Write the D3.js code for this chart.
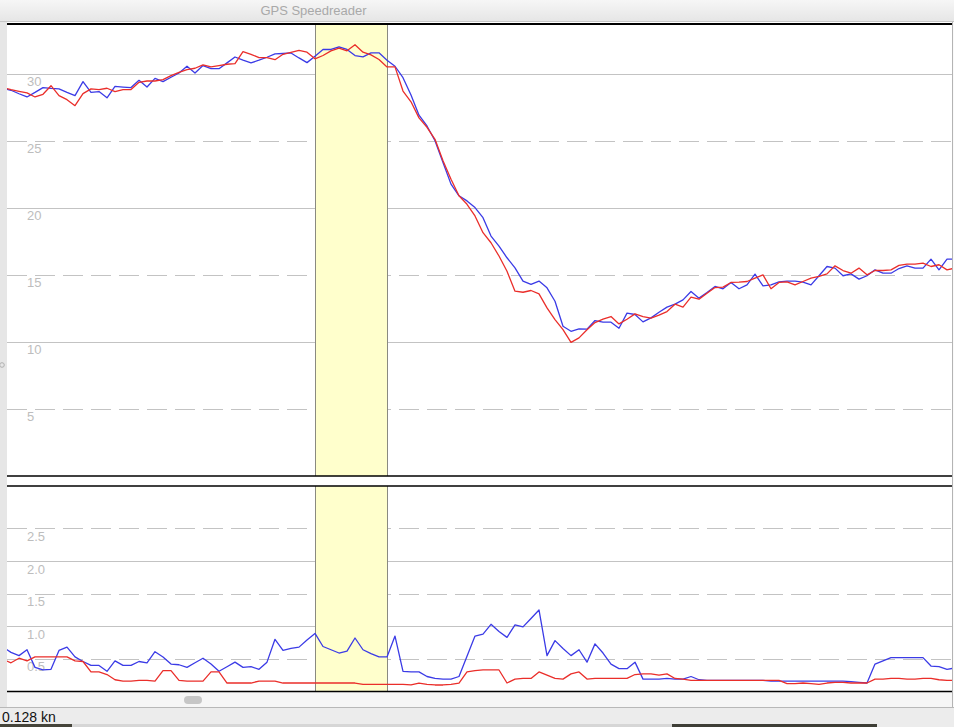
<!DOCTYPE html>
<html>
<head>
<meta charset="utf-8">
<script src="https://cdn.jsdelivr.net/npm/d3@7"></script>
<style>
  html, body { margin: 0; padding: 0; background: #ececec; overflow: hidden; }
  svg { display: block; font-family: "Liberation Sans", Helvetica, Arial, sans-serif; }
</style>
</head>
<body>
<svg id="chart" width="954" height="727"></svg>
<script>
// ---- Data (sample index 0..119, evenly spaced in time) ----
const speedBlue = [28.9, 28.76, 28.5, 28.26, 28.6, 28.96, 28.9, 28.86, 28.6, 28.36,
  29.4, 28.6, 28.66, 28.2, 29.05, 29.0, 28.96, 29.5, 29.0, 29.65,
  29.4, 29.73, 30.05, 30.55, 30.05, 30.6, 30.37, 30.37, 30.8, 31.24,
  31.0, 30.8, 31.0, 31.22, 31.47, 31.5, 31.54, 31.17, 30.82, 31.3,
  31.8, 31.8, 32.0, 31.8, 31.35, 31.25, 31.55, 31.55, 31.0, 30.55,
  29.7, 28.4, 26.9, 26.1, 25.0, 23.38, 21.76, 20.89, 20.51, 20.01,
  19.26, 17.89, 17.14, 16.27, 15.52, 14.53, 14.28, 14.53, 14.03, 13.03,
  11.16, 10.79, 10.96, 10.95, 11.59, 11.47, 11.47, 11.02, 12.14, 12.04,
  11.49, 11.79, 12.21, 12.59, 12.81, 13.13, 13.76, 13.26, 13.68, 14.13,
  13.96, 14.43, 13.96, 14.25, 15.05, 14.18, 14.25, 14.48, 14.53, 14.53,
  14.45, 14.25, 14.93, 15.62, 15.5, 14.93, 15.07, 14.68, 14.93, 15.37,
  15.12, 15.12, 15.47, 15.67, 15.5, 15.5, 16.17, 15.37, 16.17, 16.17];

const speedRed = [28.96, 28.81, 28.68, 28.56, 28.26, 28.46, 29.1, 28.36, 28.06, 27.61,
  28.51, 28.86, 28.81, 28.91, 28.66, 28.81, 28.81, 29.35, 29.45, 29.45,
  29.55, 29.85, 30.1, 30.3, 30.4, 30.65, 30.5, 30.6, 30.7, 30.75,
  31.64, 31.44, 31.19, 31.19, 31.04, 31.44, 31.59, 31.74, 31.6, 31.1,
  31.35, 31.7, 31.9, 31.7, 32.15, 31.6, 31.4, 31.05, 30.5, 30.5,
  28.7, 27.9, 26.7, 26.0, 25.1, 23.5, 22.13, 20.89, 20.26, 19.39,
  18.14, 17.39, 16.4, 15.27, 13.78, 13.7, 13.83, 13.58, 12.53, 11.66,
  10.91, 9.96, 10.3, 10.9, 11.44, 11.69, 11.89, 11.34, 11.69, 12.09,
  11.89, 11.77, 11.99, 12.26, 12.81, 12.59, 13.33, 13.18, 13.63, 14.05,
  14.08, 14.43, 14.45, 14.5, 14.75, 15.0, 13.96, 14.43, 14.48, 14.25,
  14.5, 14.75, 14.88, 15.07, 15.67, 15.32, 15.12, 15.5, 15.0, 15.32,
  15.32, 15.37, 15.7, 15.8, 15.8, 15.87, 15.62, 15.75, 15.37, 15.5];

const accBlue = [0.68, 0.60, 0.55, 0.64, 0.37, 0.33, 0.34, 0.63, 0.68, 0.53,
  0.46, 0.40, 0.40, 0.31, 0.47, 0.40, 0.40, 0.46, 0.44, 0.61,
  0.53, 0.42, 0.41, 0.37, 0.44, 0.51, 0.42, 0.31, 0.38, 0.45,
  0.37, 0.38, 0.34, 0.45, 0.80, 0.63, 0.66, 0.68, 0.79, 0.89,
  0.69, 0.64, 0.59, 0.62, 0.82, 0.64, 0.58, 0.53, 0.53, 0.85,
  0.31, 0.30, 0.30, 0.23, 0.20, 0.19, 0.19, 0.23, 0.54, 0.85,
  0.88, 1.03, 0.92, 0.83, 1.02, 0.99, 1.12, 1.25, 0.55, 0.78,
  0.66, 0.55, 0.64, 0.45, 0.73, 0.59, 0.42, 0.35, 0.35, 0.45,
  0.19, 0.19, 0.19, 0.20, 0.19, 0.19, 0.23, 0.18, 0.17, 0.17,
  0.17, 0.17, 0.17, 0.17, 0.17, 0.17, 0.16, 0.16, 0.16, 0.16,
  0.16, 0.16, 0.16, 0.16, 0.16, 0.16, 0.15, 0.14, 0.13, 0.42,
  0.47, 0.52, 0.52, 0.52, 0.52, 0.52, 0.39, 0.38, 0.34, 0.36];

const accRed = [0.49, 0.44, 0.51, 0.47, 0.53, 0.53, 0.53, 0.53, 0.53, 0.47,
  0.46, 0.30, 0.30, 0.26, 0.18, 0.16, 0.16, 0.17, 0.17, 0.16,
  0.32, 0.32, 0.17, 0.16, 0.16, 0.16, 0.30, 0.30, 0.13, 0.13,
  0.13, 0.13, 0.16, 0.16, 0.16, 0.13, 0.13, 0.13, 0.13, 0.13,
  0.13, 0.13, 0.13, 0.13, 0.13, 0.11, 0.11, 0.11, 0.11, 0.11,
  0.11, 0.10, 0.13, 0.11, 0.10, 0.10, 0.11, 0.13, 0.30, 0.32,
  0.33, 0.33, 0.33, 0.13, 0.19, 0.20, 0.20, 0.30, 0.25, 0.20,
  0.19, 0.27, 0.30, 0.19, 0.20, 0.20, 0.20, 0.20, 0.20, 0.26,
  0.27, 0.27, 0.25, 0.27, 0.20, 0.19, 0.17, 0.17, 0.17, 0.17,
  0.17, 0.17, 0.17, 0.17, 0.17, 0.17, 0.17, 0.17, 0.12, 0.12,
  0.13, 0.12, 0.11, 0.13, 0.14, 0.14, 0.13, 0.13, 0.13, 0.19,
  0.19, 0.20, 0.20, 0.19, 0.19, 0.20, 0.20, 0.18, 0.17, 0.17];

const topTicks = [5, 10, 15, 20, 25, 30];
const topDashed = [5, 15, 25];
const bottomTicks = [0.5, 1.0, 1.5, 2.0, 2.5];
const bottomDashed = [0.5, 1.5, 2.5];
const selection = [39, 48];          // highlighted sample range
const windowTitle = "GPS Speedreader";
const statusText = "0.128 kn";

// ---- Layout ----
const W = 954, H = 727;
const L = 7, R = 952;
const topPanel = { y0: 24, y1: 476 };
const botPanel = { y0: 486, y1: 691.5 };

const svg = d3.select("#chart");
const defs = svg.append("defs");

const grad = defs.append("linearGradient").attr("id", "tb").attr("x1", 0).attr("y1", 0).attr("x2", 0).attr("y2", 1);
grad.append("stop").attr("offset", "0%").attr("stop-color", "#f6f6f6");
grad.append("stop").attr("offset", "100%").attr("stop-color", "#e6e6e6");

// window chrome
svg.append("rect").attr("x", 0).attr("y", 0).attr("width", W).attr("height", H).attr("fill", "#ececec");
svg.append("rect").attr("x", 0).attr("y", 0).attr("width", W).attr("height", 21).attr("fill", "url(#tb)");
svg.append("line").attr("x1", 0).attr("x2", W).attr("y1", 21.5).attr("y2", 21.5).attr("stroke", "#c6c6c6");
svg.append("text").attr("x", 313.5).attr("y", 15).attr("text-anchor", "middle")
  .attr("font-size", 13).attr("fill", "#a9a9a9").text(windowTitle);

// content area
svg.append("rect").attr("x", 0).attr("y", 22).attr("width", L).attr("height", 685).attr("fill", "#e6e6e6");
svg.append("rect").attr("x", L).attr("y", 22).attr("width", R - L).attr("height", 670).attr("fill", "#ffffff");
svg.append("rect").attr("x", L).attr("y", 692).attr("width", R - L).attr("height", 15).attr("fill", "#f6f6f6");
svg.append("line").attr("x1", R + 0.5).attr("x2", R + 0.5).attr("y1", 22).attr("y2", 708).attr("stroke", "#b4b4b4");
svg.append("rect").attr("x", R + 1).attr("y", 22).attr("width", W - R - 1).attr("height", 686).attr("fill", "#fafafa");
svg.append("line").attr("x1", 0).attr("x2", W).attr("y1", 707.5).attr("y2", 707.5).attr("stroke", "#b8b8b8");
svg.append("rect").attr("x", 184).attr("y", 696).attr("width", 18).attr("height", 8).attr("rx", 4)
  .attr("fill", "#c6c6c6");
svg.append("circle").attr("cx", 2).attr("cy", 365).attr("r", 2.3).attr("fill", "none").attr("stroke", "#b0b0b0");

// status bar
svg.append("text").attr("x", 2).attr("y", 722).attr("font-size", 14).attr("fill", "#111").text(statusText);
svg.append("rect").attr("x", 0).attr("y", 724).attr("width", 72).attr("height", 3).attr("fill", "#45443a");
svg.append("rect").attr("x", 72).attr("y", 724).attr("width", 600).attr("height", 3).attr("fill", "#d6d6d6");
svg.append("rect").attr("x", 672).attr("y", 724).attr("width", 205).attr("height", 3).attr("fill", "#3e3e36");

// ---- Scales ----
const N = speedBlue.length;
const x = d3.scaleLinear().domain([0, N - 1]).range([3, 3 + 8 * (N - 1)]);
const yTop = d3.scaleLinear().domain([0, 33.7]).range([topPanel.y1, topPanel.y0]);
const yBot = d3.scaleLinear().domain([0, 3.15]).range([botPanel.y1, botPanel.y0]);

function panel(id, p, yScale, ticks, dashed, fmt, blue, red) {
  defs.append("clipPath").attr("id", id).append("rect")
    .attr("x", L).attr("y", p.y0).attr("width", R - L).attr("height", p.y1 - p.y0);
  const g = svg.append("g");

  const axis = d3.axisLeft(yScale).tickValues(ticks).tickSize(-(R - L)).tickFormat(fmt);
  const ax = g.append("g").attr("transform", `translate(${L},0)`).call(axis);
  ax.select(".domain").remove();
  ax.selectAll(".tick line")
    .attr("stroke", "#c3c3c3").attr("stroke-width", 1)
    .attr("stroke-dasharray", d => dashed.includes(d) ? "20,8" : null)
    .attr("shape-rendering", "crispEdges");
  ax.selectAll(".tick text")
    .attr("x", 20).attr("dy", 12).attr("text-anchor", "start")
    .attr("fill", "#bdbdbd").attr("font-size", 13)
    .attr("font-family", "'Liberation Sans', Helvetica, Arial, sans-serif");

  // selected range
  const bx0 = Math.round(x(selection[0])), bx1 = Math.round(x(selection[1]));
  g.append("rect").attr("x", bx0).attr("y", p.y0).attr("width", bx1 - bx0).attr("height", p.y1 - p.y0)
    .attr("fill", "#ffffcc");
  [bx0, bx1].forEach(bx => g.append("line").attr("x1", bx + 0.5).attr("x2", bx + 0.5)
    .attr("y1", p.y0).attr("y2", p.y1).attr("stroke", "#8a8a80").attr("stroke-width", 1));

  const line = d3.line().x((d, i) => x(i)).y(d => yScale(d));
  const lg = g.append("g").attr("clip-path", `url(#${id})`);
  lg.append("path").datum(blue).attr("d", line).attr("fill", "none")
    .attr("stroke", "#3b3be6").attr("stroke-width", 1.3).attr("stroke-linejoin", "round");
  lg.append("path").datum(red).attr("d", line).attr("fill", "none")
    .attr("stroke", "#ea2e2a").attr("stroke-width", 1.3).attr("stroke-linejoin", "round");
}

panel("clipTop", topPanel, yTop, topTicks, topDashed, d3.format("d"), speedBlue, speedRed);
panel("clipBot", botPanel, yBot, bottomTicks, bottomDashed, d3.format(".1f"), accBlue, accRed);

// panel borders
[[topPanel.y0, 2], [topPanel.y1, 1.5], [botPanel.y0, 1.5], [botPanel.y1, 1.5]].forEach(([yy, w]) =>
  svg.append("line").attr("x1", L).attr("x2", R).attr("y1", yy).attr("y2", yy)
    .attr("stroke", "#000").attr("stroke-width", w));
</script>
</body>
</html>
